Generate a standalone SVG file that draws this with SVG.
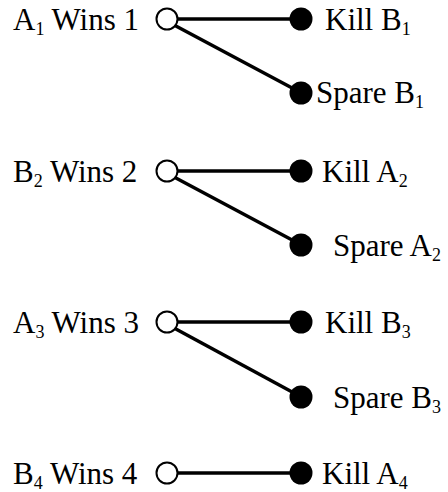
<svg xmlns="http://www.w3.org/2000/svg" width="448" height="492" viewBox="0 0 448 492">
<style>
text{font-family:"Liberation Serif","Times New Roman",serif;font-size:31px;fill:#000}
.sub{font-size:18px}
.open{fill:#fff;stroke:#000;stroke-width:2}
.fill{fill:#000}
.edge{stroke:#000;stroke-width:3.5;fill:none}
</style>
<rect width="448" height="492" fill="#fff"/>
<g id="connectors">
<line class="edge" x1="177" y1="19" x2="292" y2="19"/>
<line class="edge" x1="174" y1="25" x2="294" y2="89"/>
<line class="edge" x1="177" y1="171" x2="292" y2="171"/>
<line class="edge" x1="174" y1="177" x2="294" y2="241"/>
<line class="edge" x1="177" y1="322" x2="292" y2="322"/>
<line class="edge" x1="174" y1="328" x2="294" y2="393"/>
<line class="edge" x1="177" y1="473" x2="292" y2="473"/>
</g>
<g id="a1wins1"><circle class="open" cx="167" cy="19" r="10.5"/><text x="13" y="30">A<tspan class="sub" dy="5">1</tspan><tspan dy="-5"> Wins 1</tspan></text></g>
<g id="killb1"><circle class="fill" cx="301" cy="19" r="11.5"/><text x="325" y="30">Kill B<tspan class="sub" dy="5">1</tspan></text></g>
<g id="spareb1"><circle class="fill" cx="301" cy="93" r="11.5"/><text x="316" y="103">Spare B<tspan class="sub" dy="5">1</tspan></text></g>
<g id="b2wins2"><circle class="open" cx="167" cy="171" r="10.5"/><text x="13" y="182">B<tspan class="sub" dy="5">2</tspan><tspan dy="-5"> Wins 2</tspan></text></g>
<g id="killa2"><circle class="fill" cx="301" cy="171" r="11.5"/><text x="322" y="182">Kill A<tspan class="sub" dy="5">2</tspan></text></g>
<g id="sparea2"><circle class="fill" cx="301" cy="245" r="11.5"/><text x="333" y="256">Spare A<tspan class="sub" dy="5">2</tspan></text></g>
<g id="a3wins3"><circle class="open" cx="167" cy="322" r="10.5"/><text x="13" y="333">A<tspan class="sub" dy="5">3</tspan><tspan dy="-5"> Wins 3</tspan></text></g>
<g id="killb3"><circle class="fill" cx="301" cy="322" r="11.5"/><text x="325" y="333">Kill B<tspan class="sub" dy="5">3</tspan></text></g>
<g id="spareb3"><circle class="fill" cx="301" cy="397" r="11.5"/><text x="333" y="408">Spare B<tspan class="sub" dy="5">3</tspan></text></g>
<g id="b4wins4"><circle class="open" cx="167" cy="473" r="10.5"/><text x="13" y="484">B<tspan class="sub" dy="5">4</tspan><tspan dy="-5"> Wins 4</tspan></text></g>
<g id="killa4"><circle class="fill" cx="301" cy="473" r="11.5"/><text x="322" y="484">Kill A<tspan class="sub" dy="5">4</tspan></text></g>
</svg>
